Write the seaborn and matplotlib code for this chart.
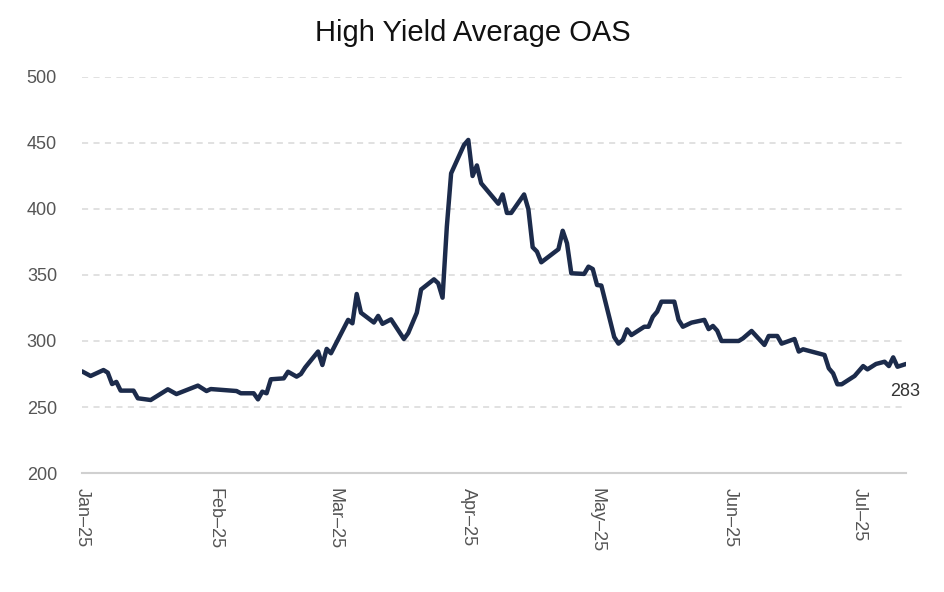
import pandas as pd
import matplotlib.pyplot as plt
import matplotlib.dates as mdates
import seaborn as sns

# High yield average OAS (bps)
dates = [
    '2025-01-01', '2025-01-03', '2025-01-06', '2025-01-07', '2025-01-08', '2025-01-09',
    '2025-01-10', '2025-01-13', '2025-01-14', '2025-01-17', '2025-01-21', '2025-01-23',
    '2025-01-28', '2025-01-30', '2025-01-31', '2025-02-06', '2025-02-07', '2025-02-10',
    '2025-02-11', '2025-02-12', '2025-02-13', '2025-02-14', '2025-02-17', '2025-02-18',
    '2025-02-20', '2025-02-21', '2025-02-22', '2025-02-25', '2025-02-26', '2025-02-27',
    '2025-02-28', '2025-03-04', '2025-03-05', '2025-03-06', '2025-03-07', '2025-03-10',
    '2025-03-11', '2025-03-12', '2025-03-14', '2025-03-17', '2025-03-18', '2025-03-20',
    '2025-03-21', '2025-03-24', '2025-03-25', '2025-03-26', '2025-03-27', '2025-03-28',
    '2025-03-31', '2025-04-01', '2025-04-02', '2025-04-03', '2025-04-04', '2025-04-08',
    '2025-04-09', '2025-04-10', '2025-04-11', '2025-04-14', '2025-04-15', '2025-04-16',
    '2025-04-17', '2025-04-18', '2025-04-22', '2025-04-23', '2025-04-24', '2025-04-25',
    '2025-04-28', '2025-04-29', '2025-04-30', '2025-05-01', '2025-05-02', '2025-05-05',
    '2025-05-06', '2025-05-07', '2025-05-08', '2025-05-09', '2025-05-12', '2025-05-13',
    '2025-05-14', '2025-05-15', '2025-05-16', '2025-05-19', '2025-05-20', '2025-05-21',
    '2025-05-23', '2025-05-26', '2025-05-27', '2025-05-28', '2025-05-29', '2025-05-30',
    '2025-06-03', '2025-06-04', '2025-06-06', '2025-06-09', '2025-06-10', '2025-06-12',
    '2025-06-13', '2025-06-16', '2025-06-17', '2025-06-18', '2025-06-23', '2025-06-24',
    '2025-06-25', '2025-06-26', '2025-06-27', '2025-06-30', '2025-07-02', '2025-07-03',
    '2025-07-05', '2025-07-07', '2025-07-08', '2025-07-09', '2025-07-10', '2025-07-12',
]
oas = [
    277, 273.5, 278, 276, 267.4, 269,
    262.4, 262.4, 256.6, 255.3, 263.4, 259.8,
    266.2, 262.1, 263.6, 262.1, 260.4, 260.4,
    255.8, 261.6, 260.4, 271, 271.7, 276.7,
    273, 275, 280, 292, 281.8, 294,
    290.7, 316, 313.4, 335.6, 321.4, 314,
    319, 313, 316.4, 301.5, 306, 321.4,
    339, 346.7, 343.7, 332.8, 386.6, 427,
    448.5, 452.3, 425, 433, 419.5, 404,
    411, 397, 397, 411, 399.8, 371,
    367.7, 359.6, 369.5, 383.5, 374, 351.3,
    350.8, 356.3, 354.5, 342.4, 342, 303,
    298, 300.8, 308.8, 304.5, 310.8, 310.8,
    318.4, 322.2, 329.8, 329.8, 316, 310.8,
    313.9, 316, 309, 311.4, 307.8, 300,
    300, 302, 307.6, 297, 303.8, 303.8,
    298, 301.5, 292, 293.7, 289.4, 279.3,
    275.5, 267.2, 267.2, 273.5, 281, 278.5,
    282.6, 284.3, 281, 287.6, 280.5, 282.6,
]
last_label = '283'

df = pd.DataFrame({'Date': pd.to_datetime(dates), 'OAS': oas})

sns.set_theme(style='white')
plt.rcParams['font.family'] = ['Liberation Sans', 'DejaVu Sans']

fig = plt.figure(figsize=(9.45, 5.92), dpi=100)
ax = fig.add_axes([0.0868, 0.201, 0.872, 0.669])

sns.lineplot(data=df, x='Date', y='OAS', color='#1c2b4b', linewidth=3.2, ax=ax)

ax.set_ylim(200, 500)
ax.set_yticks(range(200, 501, 50))
ax.set_xlim(df['Date'].iloc[0], df['Date'].iloc[-1])
ax.xaxis.set_major_locator(mdates.MonthLocator())
ax.xaxis.set_major_formatter(mdates.DateFormatter('%b\u2013%y'))

ax.grid(axis='y', color='#d9d9d9', linestyle=(0, (4, 3.5)), linewidth=1.1)
ax.grid(axis='x', visible=False)
for side in ['top', 'right', 'left']:
    ax.spines[side].set_visible(False)
ax.spines['bottom'].set_color('#d0d0d0')
ax.spines['bottom'].set_linewidth(1.5)

ax.tick_params(axis='y', length=0, pad=18, labelsize=13, labelcolor='#555555')
ax.tick_params(axis='x', length=5, width=1.2, color='#d0d0d0', pad=6,
               labelsize=13, labelcolor='#555555', labelrotation=270)
for lbl in ax.get_xticklabels():
    lbl.set_verticalalignment('top')
    lbl.set_horizontalalignment('center')

ax.set_xlabel('')
ax.set_ylabel('')

ax.annotate(last_label, xy=(df['Date'].iloc[-1], df['OAS'].iloc[-1]),
            xytext=(-1, -20), textcoords='offset points',
            ha='center', va='center', fontsize=13, color='#333333')

fig.suptitle('High Yield Average OAS', x=0.5, y=0.968, fontsize=21, color='#111111')

fig.savefig('out.png', dpi=100)
